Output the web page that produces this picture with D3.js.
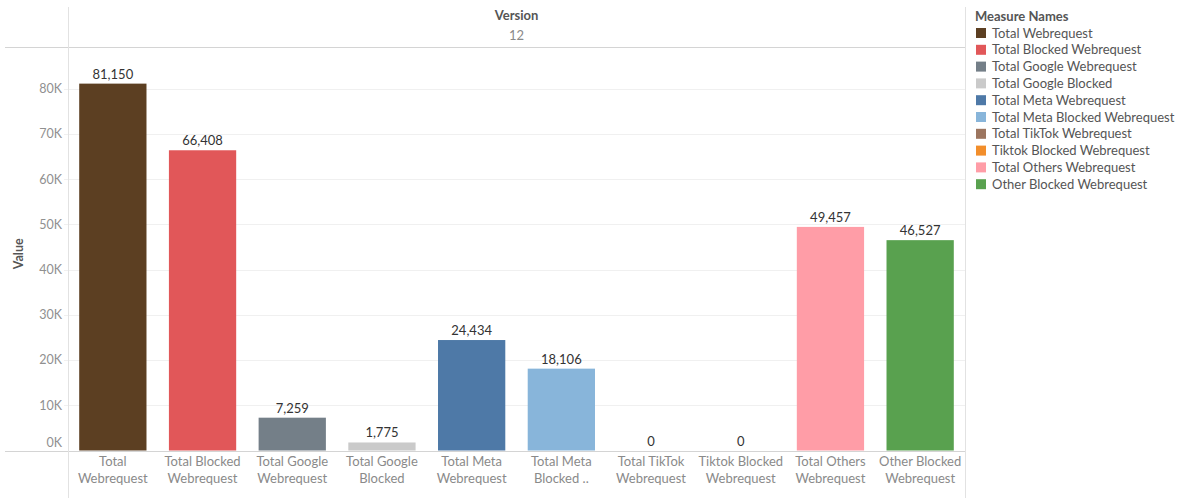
<!DOCTYPE html>
<html>
<head>
<meta charset="utf-8">
<script src="https://cdn.jsdelivr.net/npm/d3@7"></script>
<style>
  body { margin: 0; background: #fff; }
  svg { font-family: Lato, "Noto Sans", sans-serif; }
</style>
</head>
<body>
<div id="app"></div>
<script>
var measures = ['Total Webrequest', 'Total Blocked Webrequest', 'Total Google Webrequest', 'Total Google Blocked',
  'Total Meta Webrequest', 'Total Meta Blocked Webrequest', 'Total TikTok Webrequest', 'Tiktok Blocked Webrequest',
  'Total Others Webrequest', 'Other Blocked Webrequest'];
var values = [81150, 66408, 7259, 1775, 24434, 18106, 0, 0, 49457, 46527];
var axisLabels = [['Total', 'Webrequest'], ['Total Blocked', 'Webrequest'], ['Total Google', 'Webrequest'],
  ['Total Google', 'Blocked'], ['Total Meta', 'Webrequest'], ['Total Meta', 'Blocked ..'], ['Total TikTok', 'Webrequest'],
  ['Tiktok Blocked', 'Webrequest'], ['Total Others', 'Webrequest'], ['Other Blocked', 'Webrequest']];
var colors = ['#5c3f22', '#e15759', '#747f88', '#cacaca', '#4e79a7', '#88b5da', '#9c755f', '#f28e2b', '#ff9da7', '#59a14f'];
var yTicks = [0, 10000, 20000, 30000, 40000, 50000, 60000, 70000, 80000];

var W = 1182, H = 498;
var paneL = 68, paneR = 965, paneT = 47, paneB = 450.5;

var svg = d3.select('#app').append('svg')
    .attr('width', W)
    .attr('height', H);

var x = d3.scaleBand()
    .domain(measures)
    .range([paneL, paneR])
    .paddingInner(0.25)
    .paddingOuter(0.125);

var y = d3.scaleLinear()
    .domain([0, 89250])
    .range([paneB, paneT]);

var color = d3.scaleOrdinal().domain(measures).range(colors);

// gridlines
svg.append('g')
    .selectAll('line')
    .data(yTicks.slice(1))
    .enter()
    .append('line')
    .attr('x1', paneL - 4)
    .attr('x2', paneR)
    .attr('y1', function (d) { return Math.round(y(d)) + 0.5 })
    .attr('y2', function (d) { return Math.round(y(d)) + 0.5 })
    .style('stroke', '#f0f0f0')
    .style('stroke-width', '1px');

// y tick labels
svg.append('g')
    .selectAll('text')
    .data(yTicks)
    .enter()
    .append('text')
    .attr('x', 62)
    .attr('y', function (d) { return d === 0 ? y(d) - 8 : y(d) })
    .attr('dy', '0.35em')
    .attr('text-anchor', 'end')
    .style('font-size', '12.5px')
    .style('fill', '#909090')
    .text(function (d) { return (d / 1000) + 'K' });

svg.append('text')
    .attr('transform', 'translate(23,' + ((paneT + paneB) / 2 + 5) + ') rotate(-90)')
    .attr('text-anchor', 'middle')
    .style('font-size', '12.5px')
    .style('font-weight', 'bold')
    .style('fill', '#555')
    .text('Value');

// bars
svg.append('g')
    .selectAll('rect')
    .data(values)
    .enter()
    .append('rect')
    .attr('x', function (d, i) { return x(measures[i]) })
    .attr('width', x.bandwidth())
    .attr('y', function (d) { return y(d) })
    .attr('height', function (d) { return paneB - y(d) })
    .style('fill', function (d, i) { return color(measures[i]) });

// value labels
svg.append('g')
    .selectAll('text')
    .data(values)
    .enter()
    .append('text')
    .attr('x', function (d, i) { return x(measures[i]) + x.bandwidth() / 2 })
    .attr('y', function (d) { return y(d) - 5 })
    .attr('text-anchor', 'middle')
    .style('font-size', '13px')
    .style('fill', '#333')
    .text(function (d) { return d3.format(',')(d) });

// frame lines
svg.append('line').attr('x1', 5).attr('x2', paneR).attr('y1', 47.5).attr('y2', 47.5)
    .style('stroke', '#d4d4d4');
svg.append('line').attr('x1', 5).attr('x2', paneR).attr('y1', 451.5).attr('y2', 451.5)
    .style('stroke', '#d4d4d4');
svg.append('line').attr('x1', paneL + 0.5).attr('x2', paneL + 0.5).attr('y1', 7).attr('y2', H)
    .style('stroke', '#e2e2e2');
svg.append('line').attr('x1', paneR + 0.5).attr('x2', paneR + 0.5).attr('y1', 7).attr('y2', H)
    .style('stroke', '#e2e2e2');

// header
svg.append('text')
    .attr('x', (paneL + paneR) / 2)
    .attr('y', 20)
    .attr('text-anchor', 'middle')
    .style('font-size', '13px')
    .style('font-weight', 'bold')
    .style('fill', '#555')
    .text('Version');
svg.append('text')
    .attr('x', (paneL + paneR) / 2)
    .attr('y', 40)
    .attr('text-anchor', 'middle')
    .style('font-size', '13px')
    .style('fill', '#8a8a8a')
    .text('12');

// x axis labels
var xl = svg.append('g')
    .selectAll('text')
    .data(axisLabels)
    .enter()
    .append('text')
    .attr('x', function (d, i) { return x(measures[i]) + x.bandwidth() / 2 })
    .attr('y', 466)
    .attr('text-anchor', 'middle')
    .style('font-size', '13px')
    .style('fill', '#8a8a8a');
xl.append('tspan')
    .attr('x', function (d, i) { return x(measures[i]) + x.bandwidth() / 2 })
    .text(function (d) { return d[0] });
xl.append('tspan')
    .attr('x', function (d, i) { return x(measures[i]) + x.bandwidth() / 2 })
    .attr('dy', 17)
    .text(function (d) { return d[1] });

// legend
svg.append('text')
    .attr('x', 975)
    .attr('y', 21)
    .style('font-size', '13px')
    .style('font-weight', 'bold')
    .style('fill', '#555')
    .text('Measure Names');

var leg = svg.append('g')
    .selectAll('g')
    .data(measures)
    .enter()
    .append('g')
    .attr('transform', function (d, i) { return 'translate(976,' + (28 + i * 16.8) + ')' });
leg.append('rect')
    .attr('width', 10)
    .attr('height', 10)
    .style('fill', function (d) { return color(d) });
leg.append('text')
    .attr('x', 16)
    .attr('y', 5)
    .attr('dy', '0.35em')
    .style('font-size', '13px')
    .style('fill', '#555')
    .text(function (d) { return d });
</script>
</body>
</html>
